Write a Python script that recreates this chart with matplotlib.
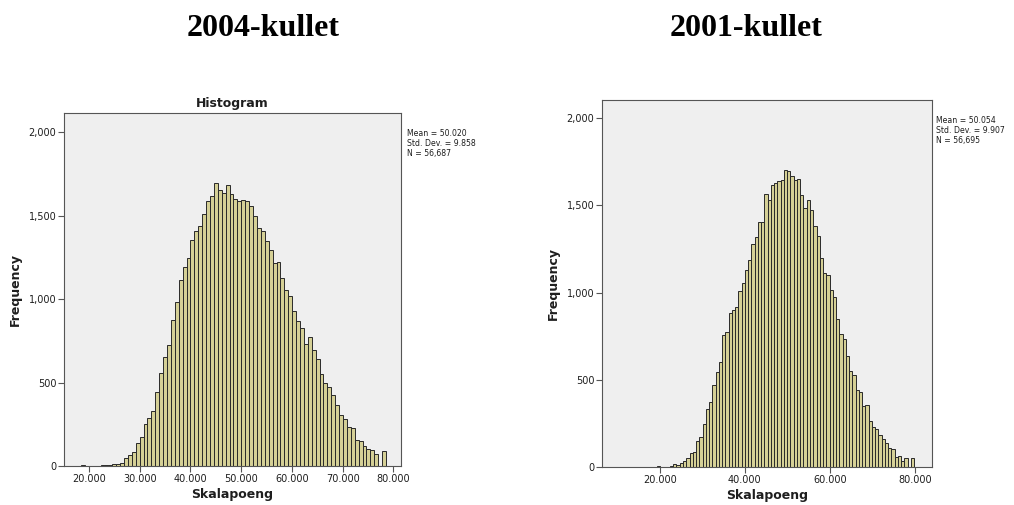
import matplotlib
matplotlib.use("Agg")
import matplotlib.pyplot as plt
import numpy as np

# Frequencies per score bin, 2004 cohort
freq_2004 = [6, 0, 0, 0, 0, 4, 6, 8, 12, 10, 16,
             47, 66, 81, 136, 175, 250, 286, 330, 441, 555,
             652, 724, 875, 982, 1113, 1189, 1245, 1355, 1407, 1440,
             1510, 1590, 1620, 1695, 1655, 1634, 1681, 1628, 1600, 1587,
             1593, 1586, 1555, 1495, 1425, 1409, 1345, 1295, 1213, 1221,
             1125, 1056, 1016, 926, 867, 827, 728, 771, 692, 638,
             549, 499, 475, 427, 368, 308, 282, 233, 229, 153,
             149, 117, 103, 93, 73, 0, 87]
bin_start_2004 = 18.42
bin_width_2004 = 0.771

# Frequencies per score bin, 2001 cohort
freq_2001 = [8, 0, 2, 2, 4,
             15, 10, 23, 34, 52, 80, 88, 147, 170, 245,
             334, 373, 468, 547, 604, 759, 776, 885, 902, 917,
             1011, 1057, 1131, 1185, 1280, 1318, 1404, 1404, 1565, 1530,
             1616, 1626, 1637, 1645, 1702, 1699, 1666, 1643, 1653, 1557,
             1486, 1530, 1475, 1383, 1322, 1200, 1109, 1099, 1017, 975,
             850, 761, 736, 637, 551, 526, 444, 430, 347, 358,
             264, 231, 219, 186, 158, 136, 110, 101, 57, 61,
             36, 54, 0, 52]
bin_start_2001 = 19.29
bin_width_2001 = 0.767

stats_2004 = "Mean = 50.020\nStd. Dev. = 9.858\nN = 56,687"
stats_2001 = "Mean = 50.054\nStd. Dev. = 9.907\nN = 56,695"

xticks_2004 = [20, 30, 40, 50, 60, 70, 80]
xticks_2001 = [20, 40, 60, 80]
yticks = [0, 500, 1000, 1500, 2000]

BAR_FILL = "#d5d096"
BAR_EDGE = "#2a2a2a"
PANEL_BG = "#efefef"
SPINE = "#555555"
TEXT = "#1e1e1e"

fig = plt.figure(figsize=(10.14, 5.05), dpi=100)
fig.patch.set_facecolor("white")


def draw_hist(ax, freq, start, width, xticks, xlim, ylim):
    freq = np.asarray(freq, dtype=float)
    lefts = start + width * np.arange(len(freq))
    ax.bar(lefts, freq, width=width, align="edge", color=BAR_FILL,
           edgecolor=BAR_EDGE, linewidth=0.7, zorder=2)
    ax.set_facecolor(PANEL_BG)
    ax.set_xlim(*xlim)
    ax.set_ylim(*ylim)
    ax.set_xticks(xticks)
    ax.set_xticklabels([f"{t:.3f}" for t in xticks])
    ax.set_yticks(yticks)
    ax.set_yticklabels([f"{t:,}" for t in yticks])
    ax.tick_params(axis="both", direction="out", length=4, width=0.8,
                   color=SPINE, labelsize=7, labelcolor=TEXT, pad=1.5)
    for s in ax.spines.values():
        s.set_color(SPINE)
        s.set_linewidth(0.8)
    ax.set_xlabel("Skalapoeng", fontsize=9, fontweight="bold",
                  color=TEXT, labelpad=3)
    ax.set_ylabel("Frequency", fontsize=9, fontweight="bold",
                  color=TEXT, labelpad=5)


ax1 = fig.add_axes([0.0631, 0.0772, 0.3323, 0.699])
draw_hist(ax1, freq_2004, bin_start_2004, bin_width_2004, xticks_2004,
          (15.07, 81.5), (0, 2114))
ax1.set_title("Histogram", fontsize=9, fontweight="bold", color=TEXT, pad=4)
ax1.text(1.018, 0.955, stats_2004, transform=ax1.transAxes, fontsize=5.6,
         va="top", ha="left", color=TEXT, linespacing=1.15)

ax2 = fig.add_axes([0.5937, 0.0752, 0.3254, 0.7267])
draw_hist(ax2, freq_2001, bin_start_2001, bin_width_2001, xticks_2001,
          (6.35, 84.07), (0, 2103))
ax2.text(1.012, 0.957, stats_2001, transform=ax2.transAxes, fontsize=5.6,
         va="top", ha="left", color=TEXT, linespacing=1.15)

fig.text(263 / 1014, 1 - 28 / 505, "2004-kullet", fontsize=23,
         fontweight="bold", family="Liberation Serif", ha="center",
         va="center", color="black")
fig.text(746 / 1014, 1 - 28 / 505, "2001-kullet", fontsize=23,
         fontweight="bold", family="Liberation Serif", ha="center",
         va="center", color="black")

fig.savefig("out.png", dpi=100)
